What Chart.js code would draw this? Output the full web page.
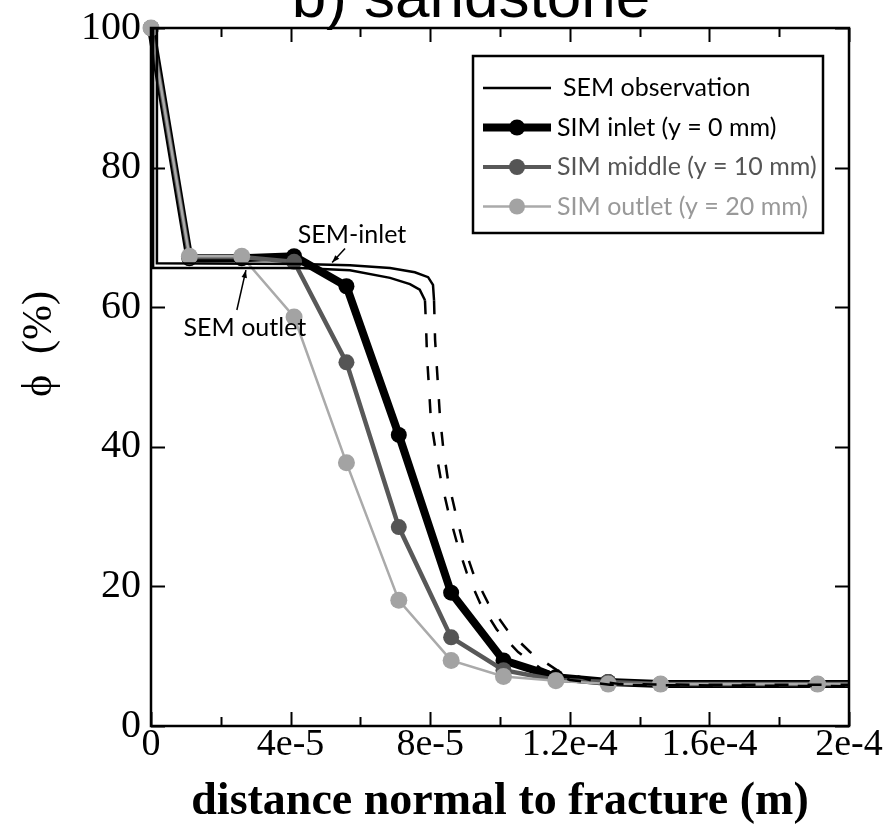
<!DOCTYPE html>
<html>
<head>
<meta charset="utf-8">
<title>b) sandstone</title>
<script src="https://cdn.jsdelivr.net/npm/chart.js@4.4.1/dist/chart.umd.min.js"></script>
<style>
    html, body { margin: 0; padding: 0; background: #fff; overflow: hidden; }
    #wrap { width: 894px; height: 836px; }
</style>
</head>
<body>
<div id="wrap"><canvas id="chart" width="894" height="836"></canvas></div>
<script>
// Porosity profiles normal to the fracture, sandstone panel

const titleText = 'b) sandstone';
const xTickLabels = ['0', '4e-5', '8e-5', '1.2e-4', '1.6e-4', '2e-4'];

// Simulation nodes (m) and porosity (%) at three heights along the fracture
const simX = [0, 1.1e-5, 2.6e-5, 4.1e-5, 5.6e-5, 7.1e-5, 8.6e-5, 1.01e-4, 1.16e-4, 1.31e-4, 1.46e-4, 1.91e-4, 2e-4];
const simInlet = [100, 67.0, 67.0, 67.3, 63.0, 41.7, 19.1, 9.4, 7.0, 6.3, 6.0, 6.0, 6.0];
const simMiddle = [100, 67.2, 67.2, 66.5, 52.1, 28.5, 12.7, 8.0, 6.6, 6.3, 6.0, 6.0, 6.0];
const simOutlet = [100, 67.3, 67.3, 58.6, 37.7, 18.0, 9.4, 7.1, 6.5, 6.0, 6.0, 6.0, 6.0];

// SEM observation curves (solid part, then dashed from the given index)
const semInletX = [0.17e-5, 0.17e-5, 4.27e-5, 5.7e-5, 6.85e-5, 7.56e-5, 7.94e-5, 8.08e-5, 8.11e-5, 8.14e-5, 8.22e-5, 8.28e-5,
    8.37e-5, 8.51e-5, 8.71e-5, 8.94e-5, 9.23e-5, 9.66e-5, 1.02e-4, 1.086e-4, 1.163e-4, 1.258e-4, 1.344e-4, 1.573e-4, 2e-4];
const semInletY = [100, 66.3, 66.2, 66.0, 65.6, 65.0, 64.3, 63.2, 61.0, 55.3, 49.1, 44.3,
    40.0, 35.2, 30.9, 26.2, 21.9, 17.6, 13.8, 10.6, 8.0, 6.6, 6.0, 5.9, 5.9];
const semInletDashFrom = 8;

const semOutletX = [0.06e-5, 0.06e-5, 4.27e-5, 5.7e-5, 6.85e-5, 7.42e-5, 7.7e-5, 7.85e-5, 7.88e-5, 7.91e-5, 7.97e-5, 8.02e-5,
    8.14e-5, 8.31e-5, 8.51e-5, 8.77e-5, 9.05e-5, 9.43e-5, 9.91e-5, 1.052e-4, 1.115e-4, 1.2e-4, 1.315e-4, 2e-4];
const semOutletY = [100, 65.6, 65.6, 65.3, 64.2, 63.3, 62.5, 61.0, 57.4, 52.9, 48.1, 43.8,
    40.0, 35.2, 30.9, 26.2, 21.9, 17.6, 13.8, 10.6, 8.3, 6.6, 5.9, 5.7];
const semOutletDashFrom = 7;

// Labels with arrows, in data units
const notes = [
    { text: 'SEM-inlet', x: 5.76e-5, y: 70.3, from: [5.56e-5, 68.4], to: [5.19e-5, 66.4] },
    { text: 'SEM outlet', x: 2.69e-5, y: 57.0, from: [2.46e-5, 59.6], to: [2.72e-5, 65.3] }
];

const toPoints = (xs, ys) => xs.map((x, i) => ({ x: x, y: ys[i] }));
const lastSim = simX.length - 1;

const datasets = [
    {
        label: 'SEM observation',
        data: toPoints(semInletX, semInletY),
        borderColor: '#000',
        borderWidth: 2.5,
        pointRadius: 0,
        segment: { borderDash: ctx => ctx.p0DataIndex >= semInletDashFrom ? [14, 19] : undefined },
        legend: { line: 2.5, marker: 0, text: '#000', color: '#000' },
        order: 0
    },
    {
        label: 'SEM outlet',
        data: toPoints(semOutletX, semOutletY),
        borderColor: '#000',
        borderWidth: 2.5,
        pointRadius: 0,
        segment: { borderDash: ctx => ctx.p0DataIndex >= semOutletDashFrom ? [14, 19] : undefined },
        order: 0
    },
    {
        label: 'SIM inlet (y = 0 mm)',
        data: toPoints(simX, simInlet),
        borderColor: '#000',
        backgroundColor: '#000',
        borderWidth: 8,
        pointRadius: ctx => ctx.dataIndex === lastSim ? 0 : 8,
        legend: { line: 8, marker: 8, text: '#000', color: '#000' },
        order: 3
    },
    {
        label: 'SIM middle (y = 10 mm)',
        data: toPoints(simX, simMiddle),
        borderColor: '#585858',
        backgroundColor: '#555',
        borderWidth: 4.5,
        pointRadius: ctx => ctx.dataIndex === lastSim ? 0 : 8,
        legend: { line: 4, marker: 8, text: '#555', color: '#585858' },
        order: 2
    },
    {
        label: 'SIM outlet (y = 20 mm)',
        data: toPoints(simX, simOutlet),
        borderColor: '#aaaaaa',
        backgroundColor: '#a3a3a3',
        borderWidth: 2.5,
        pointRadius: ctx => ctx.dataIndex === lastSim ? 0 : 8.5,
        legend: { line: 2.5, marker: 8, text: '#999', color: '#aaa' },
        order: 1
    }
];

datasets.forEach(d => {
    d.showLine = true;
    d.clip = false;
    d.tension = 0;
    d.pointBorderWidth = 0;
    d.pointHoverRadius = 0;
});

// Full frame with inward ticks on all four sides
const frameTicks = {
    id: 'frameTicks',
    afterDraw(chart) {
        const { ctx, chartArea: a, scales } = chart;
        ctx.save();
        ctx.strokeStyle = '#000';
        ctx.lineWidth = 2.5;
        ctx.strokeRect(a.left, a.top, a.right - a.left, a.bottom - a.top);
        ctx.lineWidth = 2;
        ctx.beginPath();
        scales.x.ticks.forEach((t, i) => {
            const px = Math.round(scales.x.getPixelForValue(t.value)) + 0.5;
            const len = i % 2 === 0 ? 14 : 9;
            ctx.moveTo(px, a.bottom); ctx.lineTo(px, a.bottom - len);
            ctx.moveTo(px, a.top); ctx.lineTo(px, a.top + len);
        });
        scales.y.ticks.forEach(t => {
            const py = Math.round(scales.y.getPixelForValue(t.value)) + 0.5;
            ctx.moveTo(a.left, py); ctx.lineTo(a.left + 14, py);
            ctx.moveTo(a.right, py); ctx.lineTo(a.right - 14, py);
        });
        ctx.stroke();
        ctx.restore();
    }
};

// Cut-off panel title and rotated y axis title
const panelText = {
    id: 'panelText',
    afterDraw(chart) {
        const { ctx, chartArea: a } = chart;
        ctx.save();
        ctx.fillStyle = '#000';
        ctx.font = '62px "Liberation Sans", Arial, sans-serif';
        ctx.textAlign = 'center';
        ctx.textBaseline = 'alphabetic';
        ctx.fillText(titleText, 471, 17);

        ctx.translate(40, (a.top + a.bottom) / 2 - 33);
        ctx.rotate(-Math.PI / 2);
        ctx.font = '42px "Liberation Serif", "DejaVu Serif", serif';
        ctx.textBaseline = 'middle';
        ctx.fillText('\u03D5  (%)', 0, 0);
        ctx.restore();
    }
};

// SEM-inlet / SEM outlet labels with arrows
const semNotes = {
    id: 'semNotes',
    afterDatasetsDraw(chart) {
        const { ctx, scales: { x, y } } = chart;
        ctx.save();
        ctx.fillStyle = '#000';
        ctx.strokeStyle = '#000';
        ctx.lineWidth = 1.5;
        ctx.font = '25px Lato, "Open Sans", sans-serif';
        ctx.textAlign = 'center';
        ctx.textBaseline = 'middle';
        notes.forEach(n => {
            ctx.fillText(n.text, x.getPixelForValue(n.x), y.getPixelForValue(n.y));
            const x0 = x.getPixelForValue(n.from[0]), y0 = y.getPixelForValue(n.from[1]);
            const x1 = x.getPixelForValue(n.to[0]), y1 = y.getPixelForValue(n.to[1]);
            ctx.beginPath();
            ctx.moveTo(x0, y0);
            ctx.lineTo(x1, y1);
            ctx.stroke();
            const ang = Math.atan2(y1 - y0, x1 - x0);
            ctx.beginPath();
            ctx.moveTo(x1, y1);
            ctx.lineTo(x1 - 8 * Math.cos(ang - 0.35), y1 - 8 * Math.sin(ang - 0.35));
            ctx.lineTo(x1 - 8 * Math.cos(ang + 0.35), y1 - 8 * Math.sin(ang + 0.35));
            ctx.closePath();
            ctx.fill();
        });
        ctx.restore();
    }
};

// Boxed legend inside the plot, top right
const boxLegend = {
    id: 'boxLegend',
    afterDraw(chart) {
        const { ctx, chartArea: a } = chart;
        const items = chart.data.datasets.filter(d => d.legend);
        const right = a.right - 26, top = a.top + 28;
        const w = 350, h = 177, left = right - w;
        ctx.save();
        ctx.fillStyle = '#fff';
        ctx.fillRect(left, top, w, h);
        ctx.strokeStyle = '#000';
        ctx.lineWidth = 2.5;
        ctx.strokeRect(left, top, w, h);
        ctx.font = '25px Lato, "Open Sans", sans-serif';
        ctx.textBaseline = 'middle';
        items.forEach((d, i) => {
            const cy = top + 32 + i * 39.5;
            const s = d.legend;
            ctx.strokeStyle = s.color;
            ctx.lineWidth = s.line;
            ctx.beginPath();
            ctx.moveTo(left + 10, cy);
            ctx.lineTo(left + 78, cy);
            ctx.stroke();
            if (s.marker) {
                ctx.fillStyle = d.backgroundColor;
                ctx.beginPath();
                ctx.arc(left + 44, cy, s.marker, 0, Math.PI * 2);
                ctx.fill();
            }
            ctx.fillStyle = s.text;
            ctx.fillText(d.label, left + (s.marker ? 84 : 90), cy);
        });
        ctx.restore();
    }
};

const serif = '"Liberation Serif", "Times New Roman", serif';

new Chart(document.getElementById('chart'), {
    type: 'scatter',
    data: { datasets: datasets },
    options: {
        responsive: false,
        animation: false,
        devicePixelRatio: 1,
        layout: { padding: { top: 28, right: 45, left: 0, bottom: 0 } },
        plugins: {
            legend: { display: false },
            tooltip: { enabled: false }
        },
        scales: {
            x: {
                type: 'linear',
                min: 0,
                max: 2e-4,
                grid: { display: false, drawTicks: false },
                border: { display: false },
                ticks: {
                    stepSize: 2e-5,
                    autoSkip: false,
                    maxRotation: 0,
                    padding: 0,
                    color: '#000',
                    font: { family: serif, size: 38, lineHeight: 1 },
                    callback: (v, i) => i % 2 === 0 ? xTickLabels[i / 2] : ''
                },
                title: {
                    display: true,
                    text: 'distance normal to fracture (m)',
                    color: '#000',
                    font: { family: serif, size: 46, weight: 'bold' },
                    padding: { top: 0, bottom: 6 }
                },
                afterFit: s => { s.height = 110; }
            },
            y: {
                min: 0,
                max: 100,
                grid: { display: false, drawTicks: false },
                border: { display: false },
                ticks: {
                    stepSize: 20,
                    padding: 10,
                    color: '#000',
                    font: { family: serif, size: 40 }
                },
                afterFit: s => { s.width = 151; s.paddingTop = 0; s.paddingBottom = 0; }
            }
        }
    },
    plugins: [frameTicks, panelText, semNotes, boxLegend]
});
</script>
</body>
</html>
